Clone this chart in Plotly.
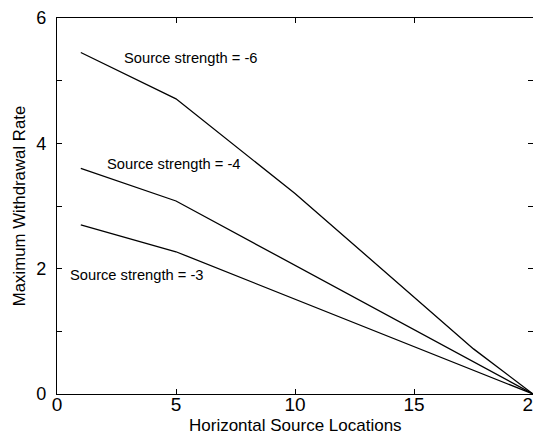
import plotly.graph_objects as go

x_s6 = [1, 5, 10, 17.5, 20]
y_s6 = [5.45, 4.71, 3.2, 0.72, 0]
x_s4 = [1, 5, 20]
y_s4 = [3.6, 3.08, 0]
x_s3 = [1, 5, 20]
y_s3 = [2.7, 2.27, 0]

labels = ["Source strength = -6", "Source strength = -4", "Source strength = -3"]
label_x = [2.72, 2.0, 0.45]
label_y = [5.36, 3.67, 1.9]

xticks = [0, 5, 10, 15, 20]
yticks = [0, 1, 2, 3, 4, 5, 6]
yticktext = ["0", "", "2", "", "4", "", "6"]

x_title = "Horizontal Source Locations"
y_title = "Maximum Withdrawal Rate"

FONT = "Arial, Liberation Sans, Helvetica, sans-serif"

fig = go.Figure()
for xs, ys in [(x_s6, y_s6), (x_s4, y_s4), (x_s3, y_s3)]:
    fig.add_trace(go.Scatter(x=xs, y=ys, mode="lines",
                             line=dict(color="black", width=1.3),
                             showlegend=False, hoverinfo="skip", cliponaxis=False))

for t, lx, ly in zip(labels, label_x, label_y):
    fig.add_annotation(x=lx, y=ly, text=t, showarrow=False,
                       xanchor="left", yanchor="middle",
                       font=dict(family=FONT, size=14.7, color="black"))

# x-axis title placed as a paper annotation for exact vertical placement
fig.add_annotation(x=0.5, y=0, xref="paper", yref="paper", text=x_title,
                   showarrow=False, xanchor="center", yanchor="middle", yshift=-31,
                   font=dict(family=FONT, size=17, color="black"))

# page body has an 8px margin, so margins are shifted to compensate
fig.update_layout(
    width=541, height=434,
    margin=dict(l=49, r=16, t=10, b=48, autoexpand=False),
    paper_bgcolor="white", plot_bgcolor="white",
    font=dict(family=FONT, color="black"),
)
fig.update_xaxes(range=[0, 20], tickvals=xticks, ticks="inside", ticklen=5,
                 tickcolor="black", showline=True, linecolor="black", linewidth=1.3,
                 mirror="ticks", showgrid=False, zeroline=False, automargin=False,
                 ticklabeloverflow="allow", ticklabelstandoff=-7,
                 tickfont=dict(size=19, family=FONT))
fig.update_yaxes(range=[0, 6], tickvals=yticks, ticktext=yticktext, ticks="inside", ticklen=5,
                 tickcolor="black", showline=True, linecolor="black", linewidth=1.3,
                 mirror="ticks", showgrid=False, zeroline=False, automargin=False,
                 ticklabeloverflow="allow", ticklabelstandoff=6,
                 tickfont=dict(size=18, family=FONT),
                 title=dict(text=y_title, font=dict(size=16.8, family=FONT), standoff=6))

fig.write_html("out.html")
